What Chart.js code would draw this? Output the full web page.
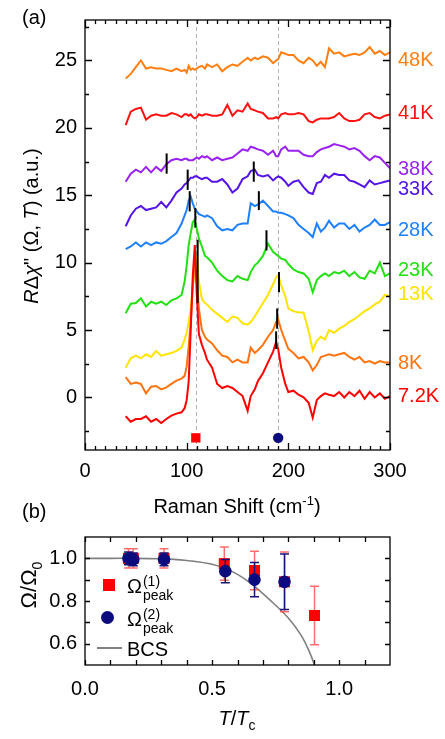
<!DOCTYPE html>
<html>
<head>
<meta charset="utf-8">
<script src="https://cdn.jsdelivr.net/npm/chart.js@4.4.1/dist/chart.umd.min.js"></script>
<style>
  body { margin: 0; background: #fff; }
  #page { position: relative; width: 445px; height: 739px; overflow: hidden; font-family: "Liberation Sans", Arial, sans-serif; color: #000; }
  canvas { position: absolute; left: 0; }
  .txt { position: absolute; white-space: nowrap; font-size: 20px; line-height: 1; }
  .mid { transform: translate(-50%, -50%); }
  .rot { transform: translate(-50%, -50%) rotate(-90deg); }
  .stack { display: inline-flex; flex-direction: column; vertical-align: middle; font-size: 14px; line-height: 14px; margin-left: 1px; }
</style>
</head>
<body>
<div id="page">
  <canvas id="chartA" width="445" height="485" style="top:0"></canvas>
  <canvas id="chartB" width="445" height="239" style="top:500px"></canvas>

  <div class="txt" style="left:22px;top:7px">(a)</div>
  <div class="txt rot" style="left:31px;top:226px"><i>R</i>Δ<i>χ</i>" (Ω, <i>T</i>) (a.u.)</div>
  <div class="txt mid" style="left:237px;top:505px">Raman Shift (cm<sup style="font-size:13px">-1</sup>)</div>

  <div class="txt" style="left:22px;top:501px">(b)</div>
  <div class="txt rot" style="left:31px;top:585px;font-size:22px">Ω/Ω<sub style="font-size:14px">0</sub></div>
  <div class="txt mid" style="left:237px;top:720px"><i>T</i>/<i>T</i><sub style="font-size:14px">c</sub></div>

  <!-- legend of panel b -->
  <div style="position:absolute;left:103px;top:579px;width:12px;height:12px;background:#f00"></div>
  <div class="txt" style="left:127px;top:574px">Ω<span class="stack"><span>(1)</span><span>peak</span></span></div>
  <div style="position:absolute;left:101px;top:611px;width:13px;height:13px;border-radius:50%;background:#0b0b7d"></div>
  <div class="txt" style="left:127px;top:607px">Ω<span class="stack"><span>(2)</span><span>peak</span></span></div>
  <div style="position:absolute;left:97px;top:647px;width:25px;height:2px;background:#808080"></div>
  <div class="txt" style="left:127px;top:639px">BCS</div>
</div>

<script>
// ---------- panel (a): Raman spectra ----------
const shift = [40, 45, 50, 55, 60, 65, 70, 75, 80, 85, 90, 95, 98, 100, 102, 104, 106, 108, 110, 112,
  115, 118, 120, 125, 130, 135, 140, 145, 150, 155, 160, 163, 167, 170, 175, 180, 185, 188, 190, 193,
  197, 200, 205, 210, 215, 220, 224, 228, 232, 236, 240, 245, 250, 255, 260, 265, 270, 275, 280, 285,
  290, 295, 300];

const s7K2 = [-1.4, -1.8, -1.6, -1.6, -1.4, -1.8, -1.6, -1.9, -1.6, -1.35, -1.2, -1.1, -0.8, -0.2, 1.2, 5.0, 9.0, 11.3, 7.6, 4.7,
  3.9, 3.3, 2.8, 2.2, 1.0, 0.7, 0.85, 0.7, 0.4, 0.1, -1.0, 0.1, 0.6, 1.2, 1.8, 2.6, 3.4, 4.1, 3.6, 2.2,
  1.0, 0.4, 0.5, 0.2, 0.0, -0.4, -1.5, -0.2, 0.1, 0.3, 0.2, 0.1, 0.4, 0.0, 0.4, 0.1, 0.5, -0.1, 0.4, 0.0,
  0.3, -0.1, 0.1];
const s8K = [1.5, 1.0, 1.1, 1.0, 0.3, 0.8, 0.85, 0.6, 0.75, 1.0, 1.25, 1.4, 1.6, 2.3, 3.8, 5.6, 8.2, 10.0, 8.6, 6.6,
  5.0, 4.5, 4.3, 4.0, 3.5, 3.1, 3.0, 2.6, 2.8, 2.6, 2.6, 3.7, 3.3, 3.5, 3.9, 4.5, 5.0, 5.6, 5.8, 5.0,
  4.2, 3.6, 3.3, 2.9, 3.0, 2.6, 2.0, 2.4, 3.0, 3.1, 3.2, 3.1, 3.2, 3.3, 3.0, 2.8, 3.0, 2.6, 2.7, 2.5,
  2.7, 2.6, 2.6];
const s13K = [2.2, 2.9, 3.1, 2.9, 3.2, 3.0, 3.45, 3.1, 3.2, 3.3, 3.45, 3.7, 4.3, 4.8, 5.6, 6.6, 8.2, 9.8, 10.4, 8.6,
  7.3, 7.0, 6.9, 6.5, 6.2, 5.9, 5.6, 6.0, 5.9, 5.5, 5.4, 5.6, 6.0, 6.4, 7.0, 7.6, 8.4, 8.9, 9.1, 8.3,
  7.5, 6.6, 6.4, 6.3, 6.3, 4.9, 3.5, 4.2, 4.5, 4.3, 5.0, 4.8, 5.1, 5.3, 5.6, 5.8, 6.1, 6.4, 6.6, 6.9,
  7.1, 7.6, 7.5];
const s23K = [6.25, 6.95, 7.0, 7.35, 6.75, 7.1, 6.95, 7.1, 6.85, 7.2, 7.35, 7.6, 8.6, 9.8, 11.3, 12.2, 13.0, 13.2, 12.5, 11.8,
  11.2, 10.5, 10.4, 10.0, 9.4, 9.0, 8.7, 8.6, 9.0, 8.8, 8.7, 9.3, 9.8, 10.0, 10.5, 11.4, 10.8, 10.6, 10.5, 10.3,
  10.2, 9.9, 9.5, 9.3, 9.2, 8.8, 7.8, 8.7, 9.0, 9.2, 9.0, 9.3, 9.2, 9.4, 9.0, 9.3, 8.9, 8.8, 9.4, 9.2,
  10.0, 9.0, 9.2];
const s28K = [11.0, 11.2, 11.5, 11.2, 11.5, 11.3, 11.5, 11.4, 11.6, 11.9, 12.2, 12.9, 13.5, 13.9, 14.6, 14.9, 14.4, 14.0, 13.8, 13.6,
  13.5, 13.4, 13.5, 13.3, 12.7, 12.4, 12.5, 12.4, 12.8, 12.9, 12.9, 14.4, 14.2, 14.3, 14.6, 14.2, 13.8, 13.8, 13.7, 13.7,
  13.6, 13.5, 13.3, 12.8, 12.5, 12.2, 11.9, 12.9, 12.3, 12.6, 13.1, 12.6, 12.9, 12.9, 12.5, 12.8, 12.3, 12.6, 12.8, 13.2,
  12.8, 12.8, 13.0];
const s33K = [12.7, 13.5, 14.0, 14.2, 13.9, 14.0, 14.1, 14.5, 14.1, 14.6, 15.2, 15.5, 15.8, 15.9, 16.1, 16.3, 16.3, 16.4, 16.4, 16.3,
  16.2, 16.3, 16.3, 16.0, 16.0, 16.2, 15.8, 15.2, 15.5, 16.2, 16.4, 16.8, 16.9, 16.5, 16.4, 16.5, 16.1, 16.3, 16.4, 16.3,
  16.0, 15.7, 16.0, 16.1, 15.6, 15.2, 15.1, 15.9, 16.0, 16.5, 16.3, 16.6, 16.5, 16.5, 16.1, 16.0, 15.8, 15.6, 16.1, 15.8,
  15.9, 16.0, 16.1];
const s38K = [16.0, 16.6, 16.9, 16.7, 17.1, 16.7, 17.1, 16.8, 17.3, 17.6, 17.7, 17.6, 17.7, 17.7, 17.6, 17.6, 17.6, 17.7, 17.8, 17.7,
  17.9, 17.8, 17.9, 17.6, 17.8, 17.6, 17.7, 17.8, 18.1, 18.4, 18.3, 18.6, 18.5, 18.4, 18.3, 18.0, 18.3, 17.9, 17.9, 18.4,
  18.6, 18.3, 18.3, 18.3, 18.0, 17.9, 17.9, 18.2, 18.4, 18.5, 18.6, 18.8, 18.7, 18.6, 18.4, 18.5, 18.3, 17.9, 17.6, 17.9,
  17.8, 17.4, 17.0];
const s41K = [20.2, 21.2, 21.4, 21.5, 20.6, 20.9, 21.0, 20.9, 20.9, 21.1, 21.0, 20.8, 21.0, 21.0, 20.9, 21.0, 20.8, 20.7, 20.8, 21.0,
  20.9, 21.0, 21.0, 20.9, 20.9, 21.0, 21.7, 20.9, 21.3, 21.2, 21.8, 21.4, 21.3, 21.2, 21.1, 20.7, 20.7, 20.8, 20.7, 21.0,
  21.1, 21.0, 21.0, 21.1, 21.0, 20.5, 20.4, 20.6, 20.7, 20.7, 20.7, 20.8, 21.1, 20.7, 20.5, 20.5, 20.6, 21.0, 21.1, 20.8,
  20.7, 20.9, 21.0];
const s48K = [23.65, 24.0, 24.5, 25.0, 24.4, 24.5, 24.4, 24.4, 24.3, 24.2, 24.4, 24.2, 24.3, 24.1, 24.6, 24.3, 24.4, 24.3, 24.4, 24.5,
  24.6, 24.4, 24.7, 24.5, 24.7, 24.2, 24.5, 24.7, 24.6, 24.9, 25.2, 25.0, 25.2, 25.1, 25.3, 25.2, 24.8, 25.0, 25.1, 25.6,
  25.5, 25.4, 25.4, 25.0, 24.8, 25.2, 25.0, 24.6, 24.9, 24.5, 25.9, 25.5, 25.6, 25.3, 25.4, 25.5, 25.4, 25.6, 26.0, 25.5,
  25.7, 25.4, 25.6];

const tempLabels = ["48K", "41K", "38K", "33K", "28K", "23K", "13K", "8K", "7.2K"];
const tempSeries = [s48K, s41K, s38K, s33K, s28K, s23K, s13K, s8K, s7K2];
const tempColors = ["#ff7f10", "#ff1010", "#9a22f0", "#5514e8", "#1f80ff", "#22e012", "#ffe400", "#ff7410", "#ff0000"];
const tempLabelY = [25.0, 21.1, 16.9, 15.45, 12.4, 9.4, 7.6, 2.5, 0.05];

// black marks at the peak positions
const markShift = [80.3, 101, 166, 103, 171, 108.5, 178.5, 110.8, 190.8, 189, 188];
const markLow = [16.6, 15.4, 16.0, 13.8, 13.9, 12.6, 10.9, 7.0, 7.8, 5.1, 3.6];
const markHigh = [18.1, 16.9, 17.5, 15.3, 15.3, 14.05, 12.4, 11.7, 9.3, 6.6, 4.9];

const guideShift = [109, 190];
const symbolY = -3;

const aTicksX = [0, 100, 200, 300];
const aTicksY = [0, 5, 10, 15, 20, 25];

// ---------- panel (b): peak positions vs T/Tc ----------
const tRatio1 = [0.171, 0.19, 0.311, 0.548, 0.667, 0.785, 0.903];
const peak1 = [1.0, 1.0, 1.0, 0.975, 0.943, 0.89, 0.732];
const peak1Err = [0.045, 0.045, 0.045, 0.078, 0.09, 0.14, 0.137];
const tRatio2 = [0.171, 0.19, 0.311, 0.552, 0.667, 0.785];
const peak2 = [1.0, 0.995, 0.995, 0.94, 0.90, 0.89];
const peak2Err = [0.03, 0.03, 0.03, 0.055, 0.08, 0.13];
const bcsT = [0, 0.1, 0.2, 0.3, 0.35, 0.4, 0.45, 0.5, 0.55, 0.6, 0.65, 0.7, 0.75, 0.8, 0.85, 0.88, 0.9, 0.91];
const bcsGap = [1.0, 1.0, 1.0, 0.998, 0.995, 0.99, 0.983, 0.972, 0.953, 0.925, 0.885, 0.835, 0.78, 0.72, 0.64, 0.57, 0.51, 0.47];

const bTicksX = [0, 0.5, 1.0];
const bTicksY = [0.6, 0.8, 1.0];

const tickFont = { family: "'Liberation Sans', Arial, sans-serif", size: 20 };

// frame with inward ticks on all four sides
const frameTicks = {
    id: "frameTicks",
    afterDraw(chart, args, o) {
        const { ctx, chartArea: a, scales } = chart;
        ctx.save();
        ctx.strokeStyle = "#000";
        ctx.lineWidth = 1.3;
        ctx.beginPath();
        const tx = (vals, len) => {
            vals.forEach((v) => {
                const px = Math.round(scales.x.getPixelForValue(v)) + 0.5;
                ctx.moveTo(px, a.bottom); ctx.lineTo(px, a.bottom - len);
                ctx.moveTo(px, a.top); ctx.lineTo(px, a.top + len);
            });
        };
        const ty = (vals, len) => {
            vals.forEach((v) => {
                const py = Math.round(scales.y.getPixelForValue(v)) + 0.5;
                ctx.moveTo(a.left, py); ctx.lineTo(a.left + len, py);
                ctx.moveTo(a.right, py); ctx.lineTo(a.right - len, py);
            });
        };
        tx(o.majorX, o.majorLen); tx(o.minorX, o.minorLen);
        ty(o.majorY, o.majorLen); ty(o.minorY, o.minorLen);
        ctx.stroke();
        ctx.strokeRect(a.left, a.top, a.right - a.left, a.bottom - a.top);
        ctx.restore();
    },
};

// dashed guides and temperature labels for panel (a)
const spectraDecor = {
    id: "spectraDecor",
    beforeDatasetsDraw(chart) {
        const { ctx, chartArea: a, scales: { x } } = chart;
        ctx.save();
        ctx.strokeStyle = "#b4b4b4";
        ctx.lineWidth = 1;
        ctx.setLineDash([4, 3]);
        guideShift.forEach((s) => {
            const px = Math.round(x.getPixelForValue(s)) + 0.5;
            ctx.beginPath(); ctx.moveTo(px, a.top); ctx.lineTo(px, a.bottom); ctx.stroke();
        });
        ctx.restore();
    },
    afterDraw(chart) {
        const { ctx, chartArea: a, scales: { y } } = chart;
        ctx.save();
        ctx.font = "20px 'Liberation Sans', Arial, sans-serif";
        ctx.textBaseline = "middle";
        tempLabels.forEach((t, i) => {
            ctx.fillStyle = tempColors[i];
            ctx.fillText(t, a.right + 8, y.getPixelForValue(tempLabelY[i]));
        });
        ctx.restore();
    },
};

// error bars for panel (b)
const errorBars = {
    id: "errorBars",
    beforeDatasetDraw(chart, args) {
        const ds = chart.data.datasets[args.index];
        if (!ds.errors) return;
        const { ctx, scales: { x, y } } = chart;
        ctx.save();
        ctx.strokeStyle = ds.errorColor;
        ctx.lineWidth = 1.5;
        ctx.beginPath();
        ds.data.forEach((p, i) => {
            const px = x.getPixelForValue(p.x);
            const top = y.getPixelForValue(p.y + ds.errors[i]);
            const bot = y.getPixelForValue(p.y - ds.errors[i]);
            ctx.moveTo(px, top); ctx.lineTo(px, bot);
            ctx.moveTo(px - 4.5, top); ctx.lineTo(px + 4.5, top);
            ctx.moveTo(px - 4.5, bot); ctx.lineTo(px + 4.5, bot);
        });
        ctx.stroke();
        ctx.restore();
    },
};

const setTicks = (vals) => (scale) => {
    scale.ticks = vals.map((v) => ({ value: v }));
};

const xy = (xs, ys) => xs.map((v, i) => ({ x: v, y: ys[i] }));

const minorA_X = [];
for (let v = 10; v < 300; v += 10) if (v % 100 !== 0) minorA_X.push(v);
const minorA_Y = [-2.5, 2.5, 7.5, 12.5, 17.5, 22.5, 27.5];

// ----- chart A -----
const aSets = [];
aSets.push({
    data: [{ x: guideShift[0], y: symbolY }],
    type: "scatter", pointStyle: "rect", pointRadius: 6.6, backgroundColor: "#ff0000", borderWidth: 0,
});
aSets.push({
    data: [{ x: guideShift[1], y: symbolY }],
    type: "scatter", pointStyle: "circle", pointRadius: 5.2, backgroundColor: "#0b0b7d", borderWidth: 0,
});
markShift.forEach((s, i) => {
    aSets.push({
        data: [{ x: s, y: markLow[i] }, { x: s, y: markHigh[i] }],
        borderColor: "#000", borderWidth: 2, pointRadius: 0,
    });
});
for (let i = tempSeries.length - 1; i >= 0; i--) {
    aSets.push({
        label: tempLabels[i],
        data: xy(shift, tempSeries[i]),
        borderColor: tempColors[i], borderWidth: 2, pointRadius: 0, tension: 0,
    });
}

new Chart(document.getElementById("chartA"), {
    type: "line",
    data: { datasets: aSets },
    options: {
        responsive: false, animation: false, devicePixelRatio: 1,
        layout: { padding: { top: 14, right: 55, left: 0, bottom: 0 } },
        plugins: {
            legend: { display: false }, tooltip: { enabled: false },
            frameTicks: { majorX: aTicksX, minorX: minorA_X, majorY: aTicksY, minorY: minorA_Y, majorLen: 7, minorLen: 4 },
        },
        scales: {
            x: {
                type: "linear", min: 0, max: 300,
                afterBuildTicks: setTicks(aTicksX),
                afterFit: (s) => { s.height = 35; },
                grid: { display: false, drawTicks: false }, border: { display: false },
                ticks: { font: tickFont, color: "#000", padding: 9, maxRotation: 0, autoSkip: false },
            },
            y: {
                type: "linear", min: -3.9, max: 28,
                afterBuildTicks: setTicks(aTicksY),
                afterFit: (s) => { s.width = 85; },
                grid: { display: false, drawTicks: false }, border: { display: false },
                ticks: { font: tickFont, color: "#000", padding: 8 },
            },
        },
    },
    plugins: [spectraDecor, frameTicks],
});

// ----- chart B -----
new Chart(document.getElementById("chartB"), {
    type: "scatter",
    data: {
        datasets: [
            {
                data: xy(tRatio2, peak2), pointStyle: "circle", pointRadius: 6.3,
                backgroundColor: "#0b0b7d", borderWidth: 0, errors: peak2Err, errorColor: "#14147a",
            },
            {
                data: xy(tRatio1, peak1), pointStyle: "rect", pointRadius: 7.8,
                backgroundColor: "#ff0000", borderWidth: 0, errors: peak1Err, errorColor: "rgba(255,60,60,0.75)",
            },
            {
                type: "line", data: xy(bcsT, bcsGap), borderColor: "#808080", borderWidth: 1.6,
                pointRadius: 0, tension: 0.3,
            },
        ],
    },
    options: {
        responsive: false, animation: false, devicePixelRatio: 1,
        layout: { padding: { top: 37, right: 55, left: 0, bottom: 0 } },
        plugins: {
            legend: { display: false }, tooltip: { enabled: false },
            frameTicks: {
                majorX: bTicksX, minorX: [0.1, 0.2, 0.3, 0.4, 0.6, 0.7, 0.8, 0.9, 1.1],
                majorY: bTicksY, minorY: [0.7, 0.9], majorLen: 5, minorLen: 5,
            },
        },
        scales: {
            x: {
                type: "linear", min: 0, max: 1.2,
                afterBuildTicks: setTicks(bTicksX),
                afterFit: (s) => { s.height = 74; },
                grid: { display: false, drawTicks: false }, border: { display: false },
                ticks: { font: tickFont, color: "#000", padding: 12, maxRotation: 0, autoSkip: false, callback: (v) => v.toFixed(1) },
            },
            y: {
                type: "linear", min: 0.5, max: 1.1,
                afterBuildTicks: setTicks(bTicksY),
                afterFit: (s) => { s.width = 85; },
                grid: { display: false, drawTicks: false }, border: { display: false },
                ticks: { font: tickFont, color: "#000", padding: 8, callback: (v) => v.toFixed(1) },
            },
        },
    },
    plugins: [errorBars, frameTicks],
});
</script>
</body>
</html>
